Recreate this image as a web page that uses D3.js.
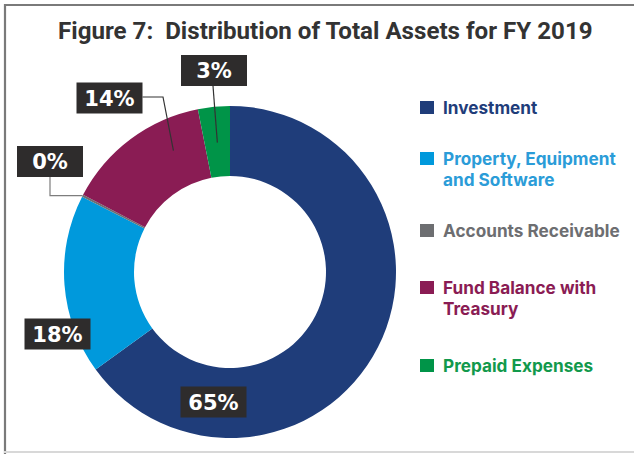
<!DOCTYPE html>
<html><head><meta charset="utf-8">
<script src="https://cdn.jsdelivr.net/npm/d3@7"></script>
<style>body{margin:0;background:#fff}svg{display:block}</style>
</head><body><div id="chart"></div>
<script>
const categories = ["Investment","Property, Equipment and Software","Accounts Receivable","Fund Balance with Treasury","Prepaid Expenses"];
const legendLines = [["Investment"],["Property, Equipment","and Software"],["Accounts Receivable"],["Fund Balance with","Treasury"],["Prepaid Expenses"]];
const values = [65.0, 17.5, 0.2, 14.2, 3.1];
const pctLabels = ["65%","18%","0%","14%","3%"];
const colors = ["#1f3d7a","#0099dc","#6d6e71","#8a1c54","#009448"];
const textColors = ["#1f3d7a","#2b9cd8","#6d6e71","#8a1c54","#12994c"];

const W=634,H=454, cx=230, cy=272, R=166, r=96;
const svg=d3.select("#chart").append("svg").attr("width",W).attr("height",H);

// frame
svg.append("line").attr("x1",5).attr("x2",5).attr("y1",4).attr("y2",H).attr("stroke","#7a7a7a").attr("stroke-width",2.2);
svg.append("line").attr("x1",4).attr("x2",W).attr("y1",5).attr("y2",5).attr("stroke","#7a7a7a").attr("stroke-width",2.2);
svg.append("line").attr("x1",4).attr("x2",W).attr("y1",452).attr("y2",452).attr("stroke","#d8d8d8").attr("stroke-width",2);

// title
const title=svg.append("text").attr("x",58).attr("y",39).attr("fill","#333")
  .style("font-family","Roboto").style("font-weight",700).style("font-size","22px")
  .text("Figure 7:\u00a0\u00a0Distribution of Total Assets for FY 2019");
const tw=title.node().getComputedTextLength();
title.style("font-size",(22*535/tw)+"px");

// pie
const pie=d3.pie().sort(null).value(d=>d);
const arcs=pie(values);
const arc=d3.arc().innerRadius(r).outerRadius(R);
const g=svg.append("g").attr("transform",`translate(${cx},${cy})`);
g.selectAll("path").data(arcs).join("path").attr("d",arc).attr("fill",(d,i)=>colors[i]);

// polar helper
const pt=(a,rad)=>[cx+rad*Math.sin(a), cy-rad*Math.cos(a)];

// label layout (box centers) and leader endpoints
const boxes=[[213.5,402],[57.5,334],[50,161.5],[109.5,98],[214,70.5]];
const bw=66,bh=31;
const lead=svg.append("g").attr("fill","none");
{
  const a=arcs[2]; const p=pt((a.startAngle+a.endAngle)/2,R);
  const b=boxes[2];
  lead.append("path").attr("d",`M${b[0]},${b[1]+bh/2}V${p[1]}H${p[0]}`).attr("stroke","#7d7d7d").attr("stroke-width",1.2);
}
{
  const a=arcs[3]; const ang=a.startAngle+(a.endAngle-a.startAngle)*0.73; const p=pt(ang,134);
  const b=boxes[3];
  lead.append("path").attr("d",`M${b[0]+bw/2},${b[1]-1}H${163}L${p[0]},${p[1]}`).attr("stroke","#333").attr("stroke-width",1.2);
}
{
  const a=arcs[4]; const p=pt((a.startAngle+a.endAngle)/2,130);
  const b=boxes[4];
  lead.append("path").attr("d",`M${b[0]-1},${b[1]+bh/2}L${p[0]},${p[1]}`).attr("stroke","#333").attr("stroke-width",1.2);
}
const lb=svg.append("g");
boxes.forEach((b,i)=>{
  lb.append("rect").attr("x",b[0]-bw/2).attr("y",b[1]-bh/2).attr("width",bw).attr("height",bh).attr("fill","#2e2c2c");
  lb.append("text").attr("x",b[0]).attr("y",b[1]+7.5).attr("text-anchor","middle").attr("fill","#fff")
    .style("font-family","DejaVu Sans").style("font-weight",700).style("font-size","21px").text(pctLabels[i]);
});

// legend
const legY=[101,152,224,281,359];
const lg=svg.append("g");
categories.forEach((c,i)=>{
  lg.append("rect").attr("x",420).attr("y",legY[i]).attr("width",14).attr("height",13).attr("fill",colors[i]);
  const t=lg.append("text").attr("x",443).attr("y",legY[i]+12.5).attr("fill",textColors[i])
    .style("font-family","Inter").style("font-weight",700).style("font-size","17.2px");
  legendLines[i].forEach((l,j)=>t.append("tspan").attr("x",443).attr("dy",j?21:0).text(l));
});
</script></body></html>
